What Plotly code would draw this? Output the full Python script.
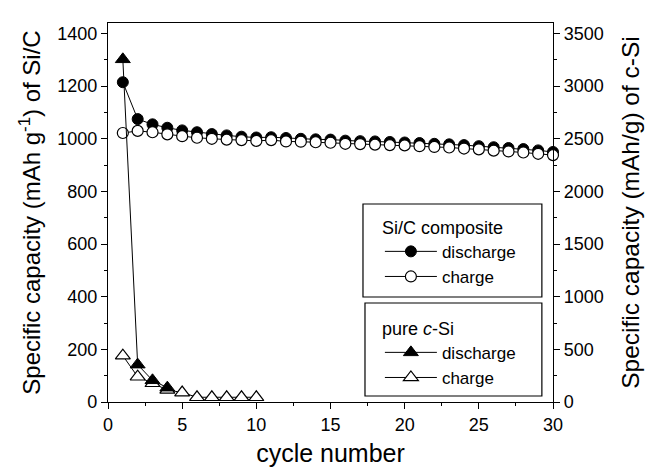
import plotly.graph_objects as go

# Cycle numbers
cycles_sic = list(range(1, 31))
cycles_si_dis = [1, 2, 3, 4]
cycles_si_chg = list(range(1, 11))

# Si/C composite capacity, mAh g^-1 (left axis)
sic_discharge = [1215, 1075, 1055, 1042, 1032, 1025, 1018, 1013, 1008, 1005,
                 1006, 1003, 1000, 998, 997, 993, 991, 990, 988, 986,
                 984, 981, 979, 976, 972, 968, 965, 961, 956, 950]
sic_charge = [1022, 1030, 1025, 1017, 1010, 1004, 1000, 997, 995, 992,
              995, 990, 989, 987, 985, 981, 980, 978, 976, 975,
              972, 969, 967, 963, 960, 955, 952, 948, 943, 938]

# pure c-Si capacity, mAh/g (right axis)
si_discharge = [3255, 355, 206, 136]
si_charge = [440, 240, 178, 115, 90, 45, 45, 45, 45, 45]

FONT = "Liberation Sans, Arial, sans-serif"

fig = go.Figure()

fig.add_trace(go.Scatter(
    x=cycles_si_chg, y=si_charge, yaxis="y2", name="charge", legend="legend2",
    mode="lines+markers", cliponaxis=False,
    line=dict(color="black", width=1),
    marker=dict(symbol="triangle-up", size=13, color="white",
                line=dict(color="black", width=1.2)),
))
fig.add_trace(go.Scatter(
    x=cycles_si_dis, y=si_discharge, yaxis="y2", name="discharge", legend="legend2",
    mode="lines+markers", cliponaxis=False,
    line=dict(color="black", width=1),
    marker=dict(symbol="triangle-up", size=13, color="black",
                line=dict(color="black", width=1)),
))
fig.add_trace(go.Scatter(
    x=cycles_sic, y=sic_discharge, name="discharge", legend="legend",
    mode="lines+markers", cliponaxis=False,
    line=dict(color="black", width=1),
    marker=dict(symbol="circle", size=11, color="black",
                line=dict(color="black", width=1)),
))
fig.add_trace(go.Scatter(
    x=cycles_sic, y=sic_charge, name="charge", legend="legend",
    mode="lines+markers", cliponaxis=False,
    line=dict(color="black", width=1),
    marker=dict(symbol="circle", size=11, color="white",
                line=dict(color="black", width=1.2)),
))

axis_common = dict(
    showline=True, linecolor="black", linewidth=1.3,
    ticks="outside", ticklen=6, tickwidth=1.3, tickcolor="black",
    showgrid=False, zeroline=False, automargin=False,
    tickfont=dict(family=FONT, size=18, color="black"),
)

legend_common = dict(
    xanchor="left", yanchor="top",
    bgcolor="rgba(0,0,0,0)", borderwidth=0,
    font=dict(family=FONT, size=17), itemwidth=52,
)

# frames around the two legend groups
box_line = dict(color="black", width=1.2)
legend_boxes = [
    dict(type="rect", xref="paper", yref="paper", x0=0.573, x1=0.975,
         y0=0.277, y1=0.5224, line=box_line, fillcolor="white", layer="above"),
    dict(type="rect", xref="paper", yref="paper", x0=0.5775, x1=0.975,
         y0=0.0158, y1=0.2612, line=box_line, fillcolor="white", layer="above"),
]

fig.update_layout(
    width=652, height=467,
    margin=dict(l=108, r=99, t=23, b=65, autoexpand=False),
    paper_bgcolor="white", plot_bgcolor="white",
    font=dict(family=FONT, color="black"),
    shapes=legend_boxes,
    xaxis=dict(
        range=[0, 30], dtick=5, tick0=0, mirror=True,
        minor=dict(dtick=2.5, ticks="outside", ticklen=3, tickcolor="black", tickwidth=1.3),
        title=dict(text="cycle number", font=dict(family=FONT, size=25), standoff=12),
        **axis_common,
    ),
    yaxis=dict(
        range=[0, 1440], dtick=200, tick0=0,
        minor=dict(dtick=100, ticks="outside", ticklen=3, tickcolor="black", tickwidth=1.3),
        title=dict(text="Specific capacity (mAh g<sup>-1</sup>) of Si/C",
                   font=dict(family=FONT, size=24), standoff=9),
        **axis_common,
    ),
    yaxis2=dict(
        range=[0, 3600], dtick=500, tick0=0, overlaying="y", side="right",
        minor=dict(dtick=250, ticks="outside", ticklen=3, tickcolor="black", tickwidth=1.3),
        title=dict(text="Specific capacity (mAh/g) of c-Si",
                   font=dict(family=FONT, size=24.5), standoff=19),
        **axis_common,
    ),
    legend=dict(
        x=0.611, y=0.5055, traceorder="normal",
        title=dict(text="Si/C composite", font=dict(family=FONT, size=18)),
        **legend_common,
    ),
    legend2=dict(
        x=0.611, y=0.239, traceorder="reversed",
        title=dict(text="pure <i>c</i>-Si", font=dict(family=FONT, size=18)),
        **legend_common,
    ),
)

fig.write_html("out.html")
